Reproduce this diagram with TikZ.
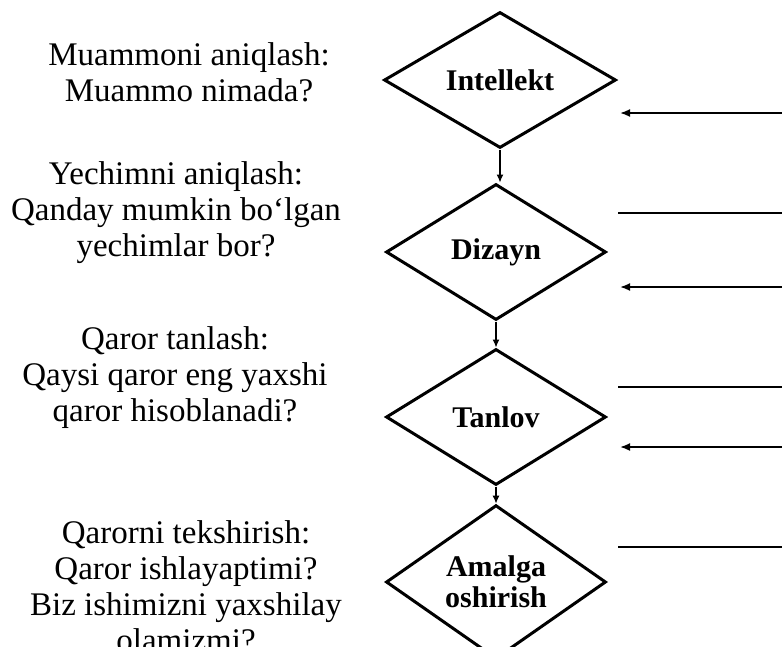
\documentclass[tikz,border=0pt]{standalone}
\usepackage{fontspec}
\setmainfont{Liberation Serif}
\usetikzlibrary{arrows.meta,positioning,shapes.geometric}

\begin{document}
\begin{tikzpicture}[x=1pt,y=-1pt,
  stage/.style={diamond,draw,line width=3pt,inner sep=0pt,minimum width=220pt,minimum height=136pt,align=center,font=\fontsize{30}{31}\selectfont\bfseries},
  note/.style={align=center,font=\fontsize{33}{36}\selectfont},
  flow/.style={line width=1.2pt,-{Latex[length=8pt,width=7pt]}},
  feed/.style={line width=1.8pt}]
\useasboundingbox (0,0) rectangle (782,646);
% stages
\node[stage,minimum width=232pt] (intel) at (500,80) {Intellekt};
\node[stage] (dizayn) at (496,252) {Dizayn};
\node[stage] (tanlov) at (496,417) {Tanlov};
\node[stage] (amalga) at (496,582) {Amalga\\oshirish};
\draw[flow] (intel.south) -- (intel.south |- dizayn.north);
\draw[flow] (dizayn.south) -- (tanlov.north);
\draw[flow] (tanlov.south) -- (amalga.north);
% questions
\node[note] (q1) at (189,72) {Muammoni aniqlash:\\Muammo nimada?};
\node[note] (q2) at (176,213) {Yechimni aniqlash:\\Qanday mumkin bo‘lgan\\yechimlar bor?};
\node[note] (q3) at (175,378) {Qaror tanlash:\\Qaysi qaror eng yaxshi\\qaror hisoblanadi?};
\node[note] (q4) at (186,586) {Qarorni tekshirish:\\Qaror ishlayaptimi?\\Biz ishimizni yaxshilay\\olamizmi?};
% feedback lines on the right
\coordinate (a1) at (620,113); \coordinate (b1) at (782,113);
\coordinate (a2) at (618,213); \coordinate (b2) at (782,213);
\coordinate (a3) at (620,287); \coordinate (b3) at (782,287);
\coordinate (a4) at (618,387); \coordinate (b4) at (782,387);
\coordinate (a5) at (620,447); \coordinate (b5) at (782,447);
\coordinate (a6) at (618,547); \coordinate (b6) at (782,547);
\draw[feed,-{Latex[length=10pt,width=8pt]}] (b1) -- (a1);
\draw[feed] (a2) -- (b2);
\draw[feed,-{Latex[length=10pt,width=8pt]}] (b3) -- (a3);
\draw[feed] (a4) -- (b4);
\draw[feed,-{Latex[length=10pt,width=8pt]}] (b5) -- (a5);
\draw[feed] (a6) -- (b6);
\end{tikzpicture}
\end{document}
